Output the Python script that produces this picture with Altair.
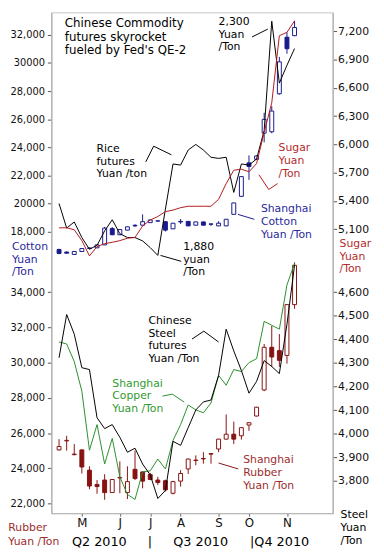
import altair as alt
import pandas as pd

# ---------------- data (weekly, mid-Apr .. mid-Nov 2010) ----------------
weeks = list(range(32))

cotton_open = [16740, 16560, 16390, 16600, 16820, 16860, 17070, 18230, 17790, 18120, 18460, 18470,
               18650, 18760, 18720, 18210, 18740, 18740, 18470, 18700, 18560, 18420, 18420, 19240,
               20520, 22900, 23150, 25010, 25110, 27810, 31830, 31940]
cotton_close = [16460, 16480, 16600, 16810, 16850, 17070, 18260, 17790, 18160, 18350, 18420, 18720,
                18840, 18780, 18120, 18610, 18700, 18420, 18700, 18470, 18540, 18610, 18890, 20050,
                21920, 22640, 23390, 25990, 26580, 30080, 31010, 32520]
cotton_high = [16800, 16600, 16620, 16830, 16880, 17090, 18350, 18330, 18180, 18370, 18540, 19240,
               18860, 18800, 18740, 18630, 18910, 18760, 18720, 18720, 18560, 18750, 18910, 20070,
               21940, 23430, 23450, 26460, 26930, 30430, 32180, 32990]
cotton_low = [16400, 16450, 16380, 16590, 16800, 16850, 17050, 17760, 17770, 18100, 18350, 18460,
              18640, 18740, 18020, 18200, 18560, 18400, 18460, 18450, 18420, 18400, 18400, 19220,
              20500, 21690, 23100, 24360, 25000, 27740, 30660, 31900]

rice = [1973, 1929, 1940, 1912, 1891, 1898, 1924, 1944, 1919, 1912, 1912, 1906, 1894, 1880, 1963, 2044,
        2042, 2069, 2079, 2069, 2056, 2054, 2056, 1993, 2044, 2042, 2053, 2104, 2300, 2189, 2221, 2251]

sugar = [5114, 5114, 5093, 4978, 4816, 4915, 4946, 4960, 4978, 5004, 5012, 5134, 5197, 5234, 5286, 5302,
         5328, 5343, 5343, 5343, 5343, 5417, 5584, 5725, 5737, 5709, 5796, 6127, 6441, 7154, 7190, 7311]

rubber_open = [25050, 25560, 24810, 25050, 23900, 23090, 23340, 22630, 23480, 22630, 23950, 23800,
               23650, 23340, 23300, 22590, 23280, 23970, 24470, 24560, 24840, 25100, 25660, 25940,
               25850, 26460, 26970, 28450, 30870, 30680, 30410, 33290]
rubber_close = [25240, 25590, 24780, 24080, 23000, 22970, 22630, 23370, 23460, 23250, 23430, 23280,
                23370, 23200, 22780, 23250, 23710, 24530, 24450, 24540, 24810, 25660, 25940, 25660,
                26310, 26590, 27470, 30870, 30320, 30130, 33290, 35520]
rubber_high = [25660, 25850, 25380, 25060, 24120, 23340, 23670, 23390, 24400, 24120, 25010, 23820,
               23750, 23520, 23360, 23300, 23900, 24560, 24740, 24920, 24840, 25680, 27060, 26650,
               26330, 26600, 27490, 31060, 32080, 31620, 33310, 35690]
rubber_low = [25010, 25010, 24740, 23710, 22820, 22560, 22220, 22610, 22590, 22260, 23340, 22870,
              23330, 23060, 22690, 22520, 22970, 23690, 24180, 24270, 24270, 24920, 25640, 25380,
              25630, 26130, 26950, 28380, 29760, 29760, 29940, 33050]

copper = [63670, 63510, 62090, 59710, 54960, 57020, 53850, 55910, 52820, 51400, 51000, 53220,
          53300, 54250, 53450, 55750, 57020, 58600, 58210, 57970, 58760, 60980, 60190, 61450,
          61290, 62010, 62320, 65330, 65010, 64700, 68260, 70000]

steel = [4322, 4505, 4422, 4280, 4272, 4068, 4022, 4039, 3985, 3922, 3939, 3872, 3826, 3726, 3760, 3968,
         3951, 4026, 4101, 4135, 4143, 4247, 4443, 4351, 4268, 4172, 4222, 4310, 4285, 4255, 4464, 4714]

month_idx = [3, 8, 12, 16, 21, 25, 30]
month_lbl = ["M", "J", "J", "A", "S", "O", "N"]

cotton_ticks = [18000, 20000, 22000, 24000, 26000, 28000, 30000, 32000]
cotton_tick_lbl = ["18,000", "20000", "22,000", "24,000", "26,000", "28,000", "30000", "32,000"]
rubber_ticks = [22000, 24000, 26000, 28000, 30000, 32000, 34000]
sugar_ticks = [5100, 5400, 5700, 6000, 6300, 6600, 6900, 7200]
steel_ticks = [3800, 3900, 4000, 4100, 4200, 4300, 4400, 4500, 4600]

# ---------------- layout / style ----------------
LEFT, TOP, RIGHT, BOTTOM = 52, 8, 338, 517   # plot area in page pixels
W, H = RIGHT - LEFT, BOTTOM - TOP
FIRST_X, STEP = 55, 8                        # first week position, px per week
FONT = "DejaVu Sans"

COTTON, COTTON_LBL = "#1a1a8e", "#2a2a9c"
SUGAR, SUGAR_LBL = "#b3181c", "#b52a2a"
RUBBER, RUBBER_LBL = "#861212", "#9b2d2d"
COPPER, COPPER_LBL = "#2b8f2b", "#2f9a2f"


def dom(v1, y1, v2, y2):
    k = (y1 - y2) / (v2 - v1)
    return [v1 - (BOTTOM - y1) / k, v1 + (y1 - TOP) / k]


cotton_dom = dom(18000, 231, 32000, 30.8)
rice_dom = dom(1880, 255, 2300, 17)
sugar_dom = dom(5100, 228.3, 7200, 27.3)
rubber_dom = dom(22000, 507.3, 34000, 292.3)
steel_dom = dom(3800, 484.3, 4600, 292.3)
copper_dom = dom(51000, 503, 70000, 263)

df = pd.DataFrame({
    "week": weeks,
    "c_open": cotton_open, "c_close": cotton_close, "c_high": cotton_high, "c_low": cotton_low,
    "r_open": rubber_open, "r_close": rubber_close, "r_high": rubber_high, "r_low": rubber_low,
    "rice": rice, "sugar": sugar, "copper": copper, "steel": steel,
})


def ternary(vals, labels):
    return " : ".join(f"datum.value == {v} ? '{s}'" for v, s in zip(vals, labels)) + " : ''"


xaxis = alt.Axis(values=month_idx, labelExpr=ternary(month_idx, month_lbl), title=None, grid=False,
                 tickSize=3, labelPadding=2, labelFontSize=12, labelFlush=False, labelOverlap=False,
                 domainColor="#b4b4b4", tickColor="#666666")
xscale = alt.Scale(domain=[(LEFT - FIRST_X) / STEP, (RIGHT - FIRST_X) / STEP], nice=False, zero=False)


def X():
    return alt.X("week:Q", scale=xscale, axis=xaxis)


def yscale(d):
    return alt.Scale(domain=d, nice=False, zero=False)


left_common = dict(orient="left", title=None, grid=False, tickSize=4, labelPadding=3, labelFontSize=10,
                   labelOverlap=False, labelFlush=False, domainColor="#b4b4b4", tickColor="#555555")
right_common = dict(orient="right", title=None, grid=False, tickSize=4, labelPadding=1, labelFontSize=11,
                    labelOverlap=False, labelFlush=False, domainColor="#b4b4b4", tickColor="#555555")

cotton_axis = alt.Axis(values=cotton_ticks, labelExpr=ternary(cotton_ticks, cotton_tick_lbl), **left_common)
rubber_axis = alt.Axis(values=rubber_ticks, labelExpr="format(datum.value, ',.0f')", **left_common)
sugar_axis = alt.Axis(values=sugar_ticks, labelExpr="format(datum.value, ',.0f')", **right_common)
steel_axis = alt.Axis(values=steel_ticks, labelExpr="format(datum.value, ',.0f')", **right_common)

base = alt.Chart(df)


def candles(p, color, d, axis):
    ys = yscale(d)
    wick = base.mark_rule(color=color, strokeWidth=1).encode(
        x=X(), y=alt.Y(f"{p}_low:Q", scale=ys, axis=axis), y2=f"{p}_high:Q")
    body = base.mark_bar(size=4, stroke=color, strokeWidth=1).encode(
        x=X(), y=alt.Y(f"{p}_open:Q", scale=ys, axis=axis), y2=f"{p}_close:Q",
        fill=alt.condition(f"datum.{p}_close > datum.{p}_open", alt.value("white"), alt.value(color)))
    return alt.layer(wick, body)


def line(field, color, d, axis):
    if axis is None:
        y = alt.Y(f"{field}:Q", scale=yscale(d), axis=None)
    else:
        y = alt.Y(f"{field}:Q", scale=yscale(d), axis=axis)
    return base.mark_line(color=color, strokeWidth=1).encode(x=X(), y=y)


one = pd.DataFrame({"a": [0]})

notes = [
    (65.7, 22.7, "Chinese Commodity\nfutures skyrocket\nfueled by Fed's QE-2", "black", 12, 14),
    (222, 20.7, "2,300\nYuan\n/Ton", "black", 11, 13),
    (98, 150, "Rice\nfutures\nYuan /ton", "black", 11, 12.7),
    (283, 149, "Sugar\nYuan\n/Ton", SUGAR_LBL, 11, 13),
    (265, 211, "Shanghai\nCotton\nYuan /Ton", COTTON_LBL, 11, 13),
    (186, 250, "1,880\nyuan\n/Ton", "black", 11, 12.7),
    (12, 250, "Cotton\nYuan\n/Ton", COTTON_LBL, 11, 12.7),
    (345, 246.7, "Sugar\nYuan\n/Ton", SUGAR_LBL, 11, 12.8),
    (150.7, 325, "Chinese\nSteel\nfutures\nYuan /Ton", "black", 11, 12.8),
    (114, 388.3, "Shanghai\nCopper\nYuan /Ton", COPPER_LBL, 11, 13),
    (247, 466, "Shanghai\nRubber\nYuan /Ton", RUBBER_LBL, 11, 13.3),
    (8.3, 535, "Rubber\nYuan /Ton", RUBBER_LBL, 11, 14),
    (346, 522.3, "Steel\nYuan\n/Ton", "black", 11, 13),
    (73, 550, "Q2 2010", "black", 13, 14),
    (150, 550, "|", "black", 13, 14),
    (176, 550, "Q3 2010", "black", 13, 14),
    (254, 550, "|Q4 2010", "black", 13, 14),
]

segs = [
    (256, 33, 272, 25, "black"),
    (148, 160, 156, 144, "black"), (156, 144, 174, 152.7, "black"),
    (263, 173, 273, 188, SUGAR), (273, 188, 282, 182, SUGAR),
    (241.7, 213.3, 258.3, 218.3, COTTON),
    (163, 255, 184, 261, "black"),
    (195, 340, 207, 332, "black"), (207, 332, 222, 343, "black"),
    (165, 398, 175, 396, COPPER), (175, 396, 187, 404, COPPER),
    (222, 466, 242, 472, RUBBER),
]

text_layers = [
    alt.Chart(one).mark_text(align="left", baseline="alphabetic", font=FONT, fontSize=fs,
                             lineHeight=lh, lineBreak="\n", color=c).encode(
        x=alt.value(px - LEFT), y=alt.value(py - TOP), text=alt.value(t))
    for (px, py, t, c, fs, lh) in notes
]
seg_layers = [
    alt.Chart(one).mark_rule(color=c, strokeWidth=1).encode(
        x=alt.value(x1 - LEFT), x2=alt.value(x2 - LEFT), y=alt.value(y1 - TOP), y2=alt.value(y2 - TOP))
    for (x1, y1, x2, y2, c) in segs
]

chart = alt.layer(
    candles("c", COTTON, cotton_dom, cotton_axis),
    line("rice", "black", rice_dom, None),
    line("sugar", SUGAR, sugar_dom, sugar_axis),
    candles("r", RUBBER, rubber_dom, rubber_axis),
    line("copper", COPPER, copper_dom, None),
    line("steel", "black", steel_dom, steel_axis),
    *seg_layers,
    *text_layers,
).resolve_scale(y="independent").properties(
    width=W, height=H,
    autosize=alt.AutoSizeParams(type="none"),
    padding={"left": LEFT - 8, "top": TOP - 8, "right": 44, "bottom": 36},
).configure_view(stroke="#c4c4c4", strokeWidth=1).configure_axis(
    labelFont=FONT, labelColor="#111111"
)

chart.save("out.html", embed_options={"renderer": "svg", "actions": False})
